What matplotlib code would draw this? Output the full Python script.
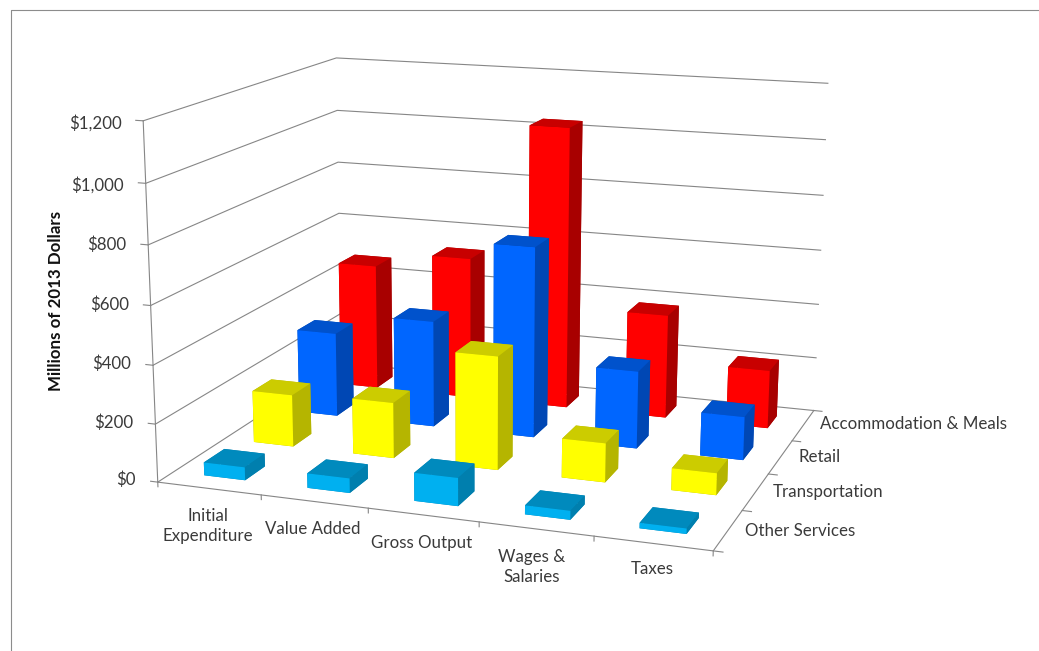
import numpy as np
import matplotlib
matplotlib.use("Agg")
import matplotlib.pyplot as plt
from matplotlib.lines import Line2D

# values in millions of dollars, one list per row of bars
categories = ["Initial\nExpenditure", "Value Added", "Gross Output", "Wages &\nSalaries", "Taxes"]
sectors = ["Other Services", "Transportation", "Retail", "Accommodation & Meals"]
other_services = [45, 50, 95, 30, 18]
transportation = [185, 196, 395, 135, 75]
retail = [307, 385, 683, 276, 153]
accommodation = [470, 528, 1035, 380, 212]
z_ticks = [0, 200, 400, 600, 800, 1000, 1200]
z_labels = ["$0", "$200", "$400", "$600", "$800", "$1,000", "$1,200"]

rows = [other_services, transportation, retail, accommodation]
# front, side and top shades per row
shades = [("#00B0F0", "#007FAE", "#008ABD"),
          ("#FFFF00", "#B5B500", "#CCCC00"),
          ("#0066FF", "#0047B4", "#0052CC"),
          ("#FF0000", "#A80000", "#C80000")]

W, H = 1039, 651
fig = plt.figure(figsize=(W / 100, H / 100), dpi=100, facecolor="white")
ax = fig.add_axes([0, 0, 1, 1], projection="3d")
ax.set_axis_off()
ax.computed_zorder = False

# box corners (cat, row, dollars) and the pixel each one lands on
corners = np.array([[0, 0, 0], [1, 0, 0], [5, 0, 0], [5, 4, 0], [0, 4, 0],
                    [0, 0, 1200], [0, 4, 1200], [5, 4, 1200],
                    [0, 0, 600], [5, 4, 600], [0, 4, 600]], float)
pixels = np.array([[158, 480], [260, 495.5], [714, 552], [813, 409], [342, 366],
                   [143, 122], [336, 57.5], [828, 84],
                   [151, 305], [821, 250], [339, 211.5]], float)

# camera matrix from the corner pairs (direct linear transform)
scale = np.array([1, 1, 1 / 240.0])
A = []
for (cx, cy, cz), (px, py) in zip(corners * scale, pixels):
    py = H - py
    A.append([cx, cy, cz, 1, 0, 0, 0, 0, -px * cx, -px * cy, -px * cz, -px])
    A.append([0, 0, 0, 0, cx, cy, cz, 1, -py * cx, -py * cy, -py * cz, -py])
cam = np.linalg.svd(np.array(A))[2][-1].reshape(3, 4)
cam[:, 2] *= scale[2]
if cam[2] @ np.array([2.5, 2, 600, 1]) < 0:
    cam = -cam


def box_proj():
    to_ax = ax.transData.inverted().get_matrix()
    m = to_ax @ cam
    return np.array([m[0], m[1], [0, 0, 0, -1], m[2]])


ax.get_proj = box_proj

grid = dict(color="#868686", lw=0.8, clip_on=False, zorder=1)

# wall and floor lines
for z in z_ticks:
    ax.plot([0, 0, 5], [0, 4, 4], [z, z, z], **grid)
    ax.plot([-0.07, 0], [0, 0], [z, z], **grid)
ax.plot([0, 0], [0, 0], [0, 1200], **grid)
ax.plot([0, 5, 5], [0, 0, 4], [0, 0, 0], **grid)
for i in range(6):
    ax.plot([i, i], [0, 0], [0, -16], **grid)
for j in range(5):
    ax.plot([5, 5.08], [j, j], [0, 0], **grid)

# bars, back row first
order = 2
for j in range(3, -1, -1):
    front, side, top = shades[j]
    for i in range(len(categories)):
        # face order of bar3d: bottom, top, front, back, left, right
        ax.bar3d(i + 0.3, j + 0.3, 0, 0.4, 0.4, rows[j][i],
                 color=[side, top, front, side, side, side],
                 shade=False, linewidth=0, clip_on=False, zorder=order)
        order += 1

txt = "#3A3A3A"
font = "Lato"


def put(px, py, s, color=txt, **kw):
    fig.text(px / W, 1 - py / H, s, family=font, fontsize=12.2, color=color, va="center", **kw)


z_right = [136, 133, 131, 129, 126, 124, 122]
z_y = [480, 423, 364, 305, 245, 185, 123]
for s, px, py in zip(z_labels, z_right, z_y):
    put(px, py, s, ha="right")

cat_x = [208, 313, 422, 532, 652]
cat_y = [526, 529, 543, 567, 569]
for s, px, py in zip(categories, cat_x, cat_y):
    put(px, py, s, ha="center", linespacing=1.3, multialignment="center")

sec_x = [745, 773, 798, 820]
sec_y = [531, 492, 457, 424]
for s, px, py in zip(sectors, sec_x, sec_y):
    put(px, py, s, ha="left")

put(56, 301, "Millions of 2013 Dollars", color="#111111", rotation=90, ha="center", fontweight="bold")

# chart area border, runs off the right and bottom edges
fig.add_artist(Line2D([1, 10.5 / W, 10.5 / W], [1 - 9.5 / H, 1 - 9.5 / H, 0],
                      color="#8C8C8C", lw=0.8, transform=fig.transFigure))

fig.savefig("out.png", dpi=100, facecolor="white")
